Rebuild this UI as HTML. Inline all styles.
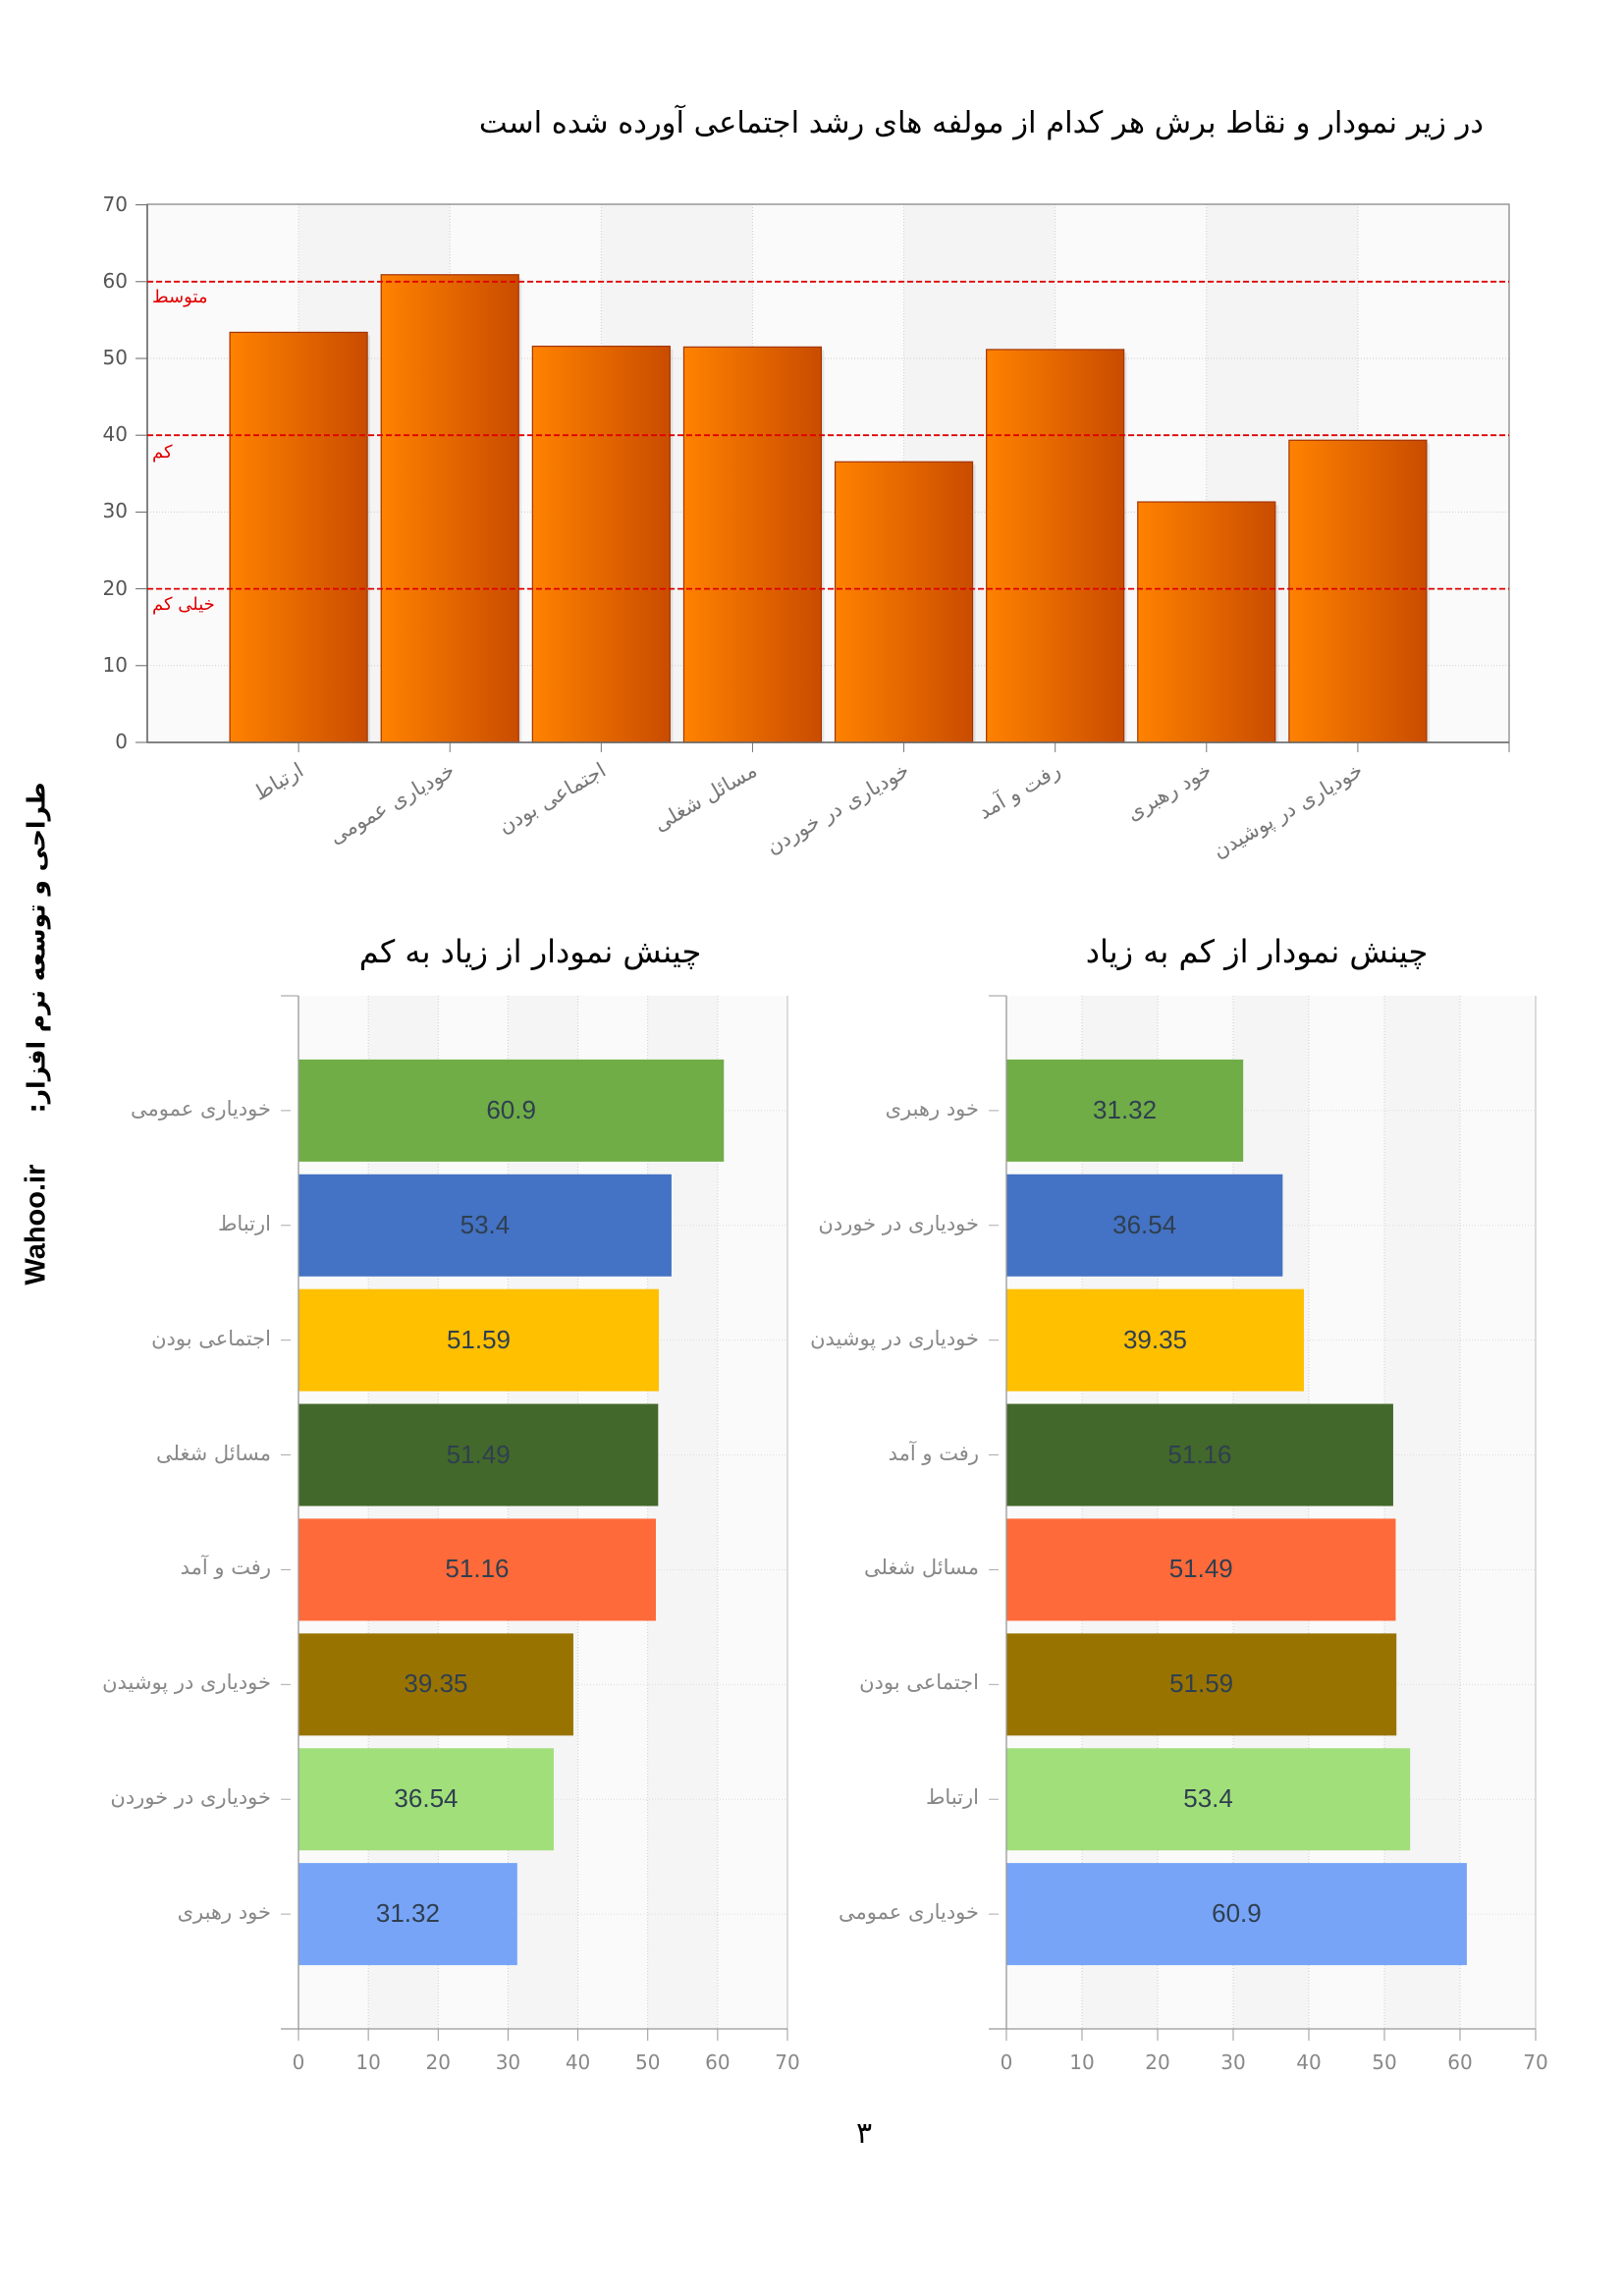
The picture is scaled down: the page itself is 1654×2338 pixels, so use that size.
<!DOCTYPE html>
<html><head><meta charset="utf-8">
<style>
html,body{margin:0;padding:0;background:#fff;}
#pg{position:relative;width:1654px;height:2338px;overflow:hidden;font-family:"DejaVu Sans","Liberation Sans",sans-serif;}
.t{position:absolute;white-space:nowrap;}
svg{position:absolute;left:0;top:0;}
</style></head><body>
<div id="pg">
<svg id="s" width="1654" height="2338" xmlns="http://www.w3.org/2000/svg">
<defs>
<linearGradient id="og" x1="0" x2="1" y1="0" y2="0">
<stop offset="0" stop-color="#ff8200"/><stop offset="1" stop-color="#c94c00"/>
</linearGradient>
</defs>
</svg>
<div class="t" dir="rtl" style="left:468px;width:1043px;top:108px;font-size:30.6px;text-align:right;color:#000;">در زیر نمودار و نقاط برش هر کدام از مولفه های رشد اجتماعی آورده شده است</div>
<div class="t" dir="rtl" style="width:600px;top:950px;font-size:32px;text-align:center;left:240px;color:#000;">چینش نمودار از زیاد به کم</div>
<div class="t" dir="rtl" style="width:600px;top:950px;font-size:32px;text-align:center;left:980px;color:#000;">چینش نمودار از کم به زیاد</div>
<div class="t" style="left:855px;width:50px;text-align:center;top:2155px;font-size:30px;">۳</div>
<div class="t" dir="rtl" style="left:-223px;width:520px;top:1036px;font-size:25px;font-weight:bold;text-align:center;transform:rotate(-90deg);transform-origin:50% 50%;color:#000;">طراحی و توسعه نرم افزار:&nbsp;&nbsp;&nbsp;&nbsp;&nbsp;&nbsp;<span dir="ltr" style="font-family:'Liberation Sans',sans-serif;font-size:29px;">Wahoo.ir</span></div>
<div class="t" dir="rtl" style="left:155px;top:292px;font-size:18px;color:#e00000;">متوسط</div>
<div class="t" dir="rtl" style="left:155px;top:450px;font-size:18px;color:#e00000;">کم</div>
<div class="t" dir="rtl" style="left:155px;top:605px;font-size:18px;color:#e00000;">خیلی کم</div>
</div>
<script>
var S=document.getElementById('s'),P=document.getElementById('pg');
function el(n,a){var e=document.createElementNS('http://www.w3.org/2000/svg',n);for(var k in a)e.setAttribute(k,a[k]);S.appendChild(e);return e;}
function tx(html,css,rtl){var d=document.createElement('div');d.className='t';if(rtl)d.dir='rtl';d.style.cssText=css;d.innerHTML=html;P.appendChild(d);return d;}
var L=150,R=1537,T=208,B=756,cw=(R-L)/9,uy=7.82;
el('rect',{x:L,y:T,width:R-L,height:B-T,fill:'#fafafa'});
for(var k=1;k<9;k+=2){el('rect',{x:L+k*cw,y:T,width:cw,height:B-T,fill:'#f4f4f4'});}
for(var k=1;k<9;k++){el('line',{x1:L+k*cw,x2:L+k*cw,y1:T,y2:B,stroke:'#cfcfcf','stroke-dasharray':'1,2'});}
for(var v=10;v<70;v+=10){var y=B-v*uy;el('line',{x1:L,x2:R,y1:y,y2:y,stroke:'#cfcfcf','stroke-dasharray':'1,2'});}
var names=['ارتباط','خودیاری عمومی','اجتماعی بودن','مسائل شغلی','خودیاری در خوردن','رفت و آمد','خود رهبری','خودیاری در پوشیدن'];
var vals=[53.4,60.9,51.59,51.49,36.54,51.16,31.32,39.35];
for(var i=0;i<8;i++){var c=L+cw*(i+1),y=B-vals[i]*uy;
el('rect',{x:c-70+3,y:y+3,width:140,height:B-y-3,fill:'#000',opacity:0.08});
el('rect',{x:c-70,y:y,width:140,height:B-y,fill:'url(#og)',stroke:'#a33400','stroke-width':1.2});
el('line',{x1:c,x2:c,y1:B,y2:B+10,stroke:'#777'});
tx(names[i],'left:'+(c-403)+'px;width:400px;top:'+(B+16)+'px;font-size:21px;color:#777;text-align:right;transform:rotate(-30deg);transform-origin:100% 0;',true);
}
el('rect',{x:L,y:T,width:R-L,height:B-T,fill:'none',stroke:'#888','stroke-width':1.3});
el('line',{x1:L,x2:L,y1:T,y2:B,stroke:'#666','stroke-width':1.5});
el('line',{x1:L,x2:R,y1:B,y2:B,stroke:'#666','stroke-width':1.5});
el('line',{x1:R,x2:R,y1:B,y2:B+10,stroke:'#777'});
for(var v=0;v<=70;v+=10){var y=B-v*uy;el('line',{x1:L-12,x2:L,y1:y,y2:y,stroke:'#666'});
tx(v,'left:80px;width:50px;text-align:right;top:'+(y-13)+'px;font-size:20px;color:#555;');}
[20,40,60].forEach(function(v){var y=B-v*uy;el('line',{x1:L,x2:R,y1:y,y2:y,stroke:'#e00000','stroke-width':1.8,'stroke-dasharray':'6,3'});});
var cols=['#70ad47','#4472c4','#ffc000','#43682b','#ff6a3a','#997300','#a1df7a','#77a4f7'];
var desc=[['خودیاری عمومی',60.9],['ارتباط',53.4],['اجتماعی بودن',51.59],['مسائل شغلی',51.49],['رفت و آمد',51.16],['خودیاری در پوشیدن',39.35],['خودیاری در خوردن',36.54],['خود رهبری',31.32]];
var asc=desc.slice().reverse();
function hchart(x0,x1,data){var t=1014,b=2066,ux=(x1-x0)/70,ch=(b-t)/9;
el('rect',{x:x0,y:t,width:x1-x0,height:b-t,fill:'#fafafa'});
for(var k=1;k<7;k+=2)el('rect',{x:x0+k*10*ux,y:t,width:10*ux,height:b-t,fill:'#f5f5f5'});
for(var k=1;k<7;k++)el('line',{x1:x0+k*10*ux,x2:x0+k*10*ux,y1:t,y2:b,stroke:'#cfcfcf','stroke-dasharray':'1,2'});
for(var i=0;i<8;i++){var cy=t+ch*(i+1);el('line',{x1:x0,x2:x1,y1:cy,y2:cy,stroke:'#ddd','stroke-dasharray':'1,2'});}
for(var i=0;i<8;i++){var cy=t+ch*(i+1),w=data[i][1]*ux;
el('rect',{x:x0,y:cy-52,width:w,height:104,fill:cols[i]});
el('line',{x1:x0-18,x2:x0-8,y1:cy,y2:cy,stroke:'#aaa'});
tx(data[i][0],'left:'+(x0-428)+'px;width:400px;text-align:right;top:'+(cy-14)+'px;font-size:21px;color:#888;',true);
tx(String(data[i][1]),'left:'+(x0+w/2-100)+'px;width:200px;text-align:center;top:'+(cy-16)+'px;font-size:26px;color:#2f3f4f;font-family:"Liberation Sans",sans-serif;');}
el('line',{x1:x0,x2:x0,y1:t,y2:b,stroke:'#999','stroke-width':1.3});
el('line',{x1:x1,x2:x1,y1:t,y2:b,stroke:'#bbb','stroke-width':1});
el('line',{x1:x0-18,x2:x0,y1:t,y2:t,stroke:'#999'});
el('line',{x1:x0-18,x2:x1,y1:b,y2:b,stroke:'#999','stroke-width':1.3});
for(var v=0;v<=70;v+=10){var x=x0+v*ux;el('line',{x1:x,x2:x,y1:b,y2:b+12,stroke:'#999'});
tx(v,'left:'+(x-30)+'px;width:60px;text-align:center;top:'+(b+22)+'px;font-size:20px;color:#888;');}}
hchart(304,802,desc);
hchart(1025,1564,asc);
</script>
</body></html>
